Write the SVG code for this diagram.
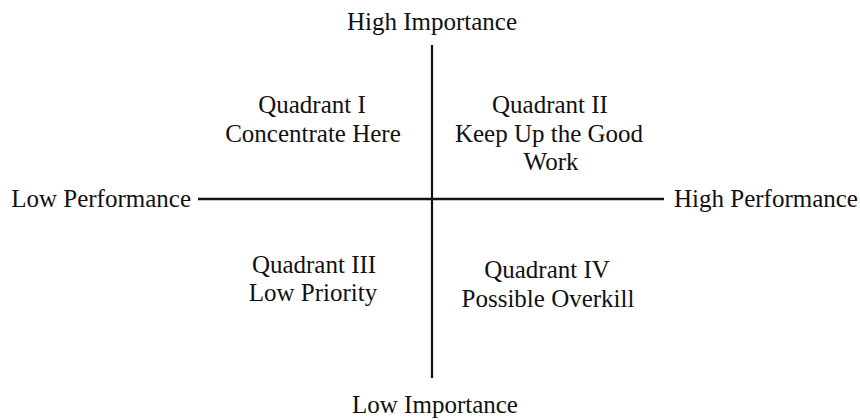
<svg xmlns="http://www.w3.org/2000/svg" width="860" height="420" viewBox="0 0 860 420">
<style>
text{font-family:"Liberation Serif","Times New Roman",serif;font-size:25px;fill:#111;text-anchor:middle}
.axis{stroke:#111;fill:none}
</style>
<rect width="860" height="420" fill="#fff"/>
<g id="connectors">
<line class="axis" x1="198" y1="199" x2="664" y2="199" stroke-width="2.6"/>
<line class="axis" x1="432" y1="45" x2="432" y2="378" stroke-width="2.2"/>
</g>
<g id="high-importance"><text x="432" y="30">High Importance</text></g>
<g id="low-importance"><text x="435" y="413">Low Importance</text></g>
<g id="low-performance"><text x="191" y="207" style="text-anchor:end">Low Performance</text></g>
<g id="high-performance"><text x="674" y="207" style="text-anchor:start">High Performance</text></g>
<g id="quadrant-1"><text x="312" y="113">Quadrant I</text><text x="313" y="142">Concentrate Here</text></g>
<g id="quadrant-2"><text x="550" y="113">Quadrant II</text><text x="549" y="142">Keep Up the Good</text><text x="551" y="170">Work</text></g>
<g id="quadrant-3"><text x="314" y="273">Quadrant III</text><text x="313" y="301">Low Priority</text></g>
<g id="quadrant-4"><text x="547" y="278">Quadrant IV</text><text x="548" y="307">Possible Overkill</text></g>
</svg>
